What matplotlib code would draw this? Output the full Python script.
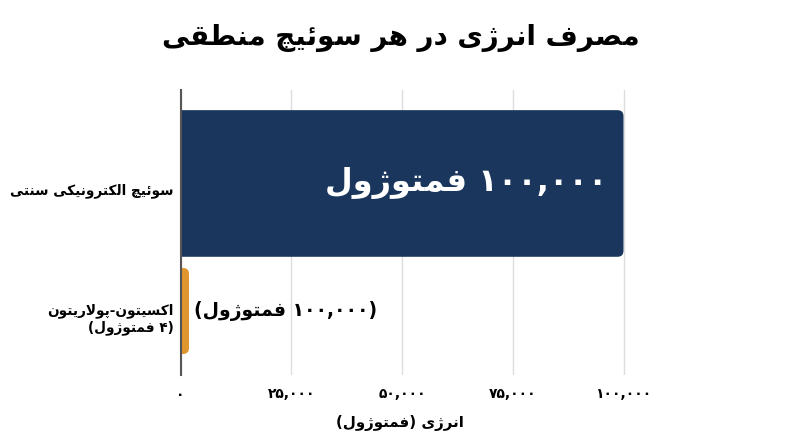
import matplotlib
matplotlib.use("Agg")
import matplotlib.pyplot as plt
import matplotlib.transforms as mtransforms
from matplotlib.patches import FancyBboxPatch

# chart data
categories = ["سوئیچ الکترونیکی سنتی", "اکسیتون-پولاریتون\n(۴ فمتوژول)"]
energy_fj = [100000, 4]
bar_labels = ["۱۰۰,۰۰۰ فمتوژول", "(۱۰۰,۰۰۰ فمتوژول)"]
x_ticks = [0, 25000, 50000, 75000, 100000]
x_tick_labels = ["۰", "۲۵,۰۰۰", "۵۰,۰۰۰", "۷۵,۰۰۰", "۱۰۰,۰۰۰"]
title = "مصرف انرژی در هر سوئیچ منطقی"
x_label = "انرژی (فمتوژول)"

bar_colors = ["#1a365d", "#e0962f"]

# matplotlib does no arabic shaping, so do it by hand:
# letter -> (first presentation form codepoint, joins to the left?)
# forms are ordered isolated, final, initial, medial
LETTERS = {
    'ا': (0xFE8D, False), 'ب': (0xFE8F, True), 'ت': (0xFE95, True),
    'ج': (0xFE9D, True), 'ح': (0xFEA1, True), 'خ': (0xFEA5, True),
    'د': (0xFEA9, False), 'ذ': (0xFEAB, False), 'ر': (0xFEAD, False),
    'ز': (0xFEAF, False), 'س': (0xFEB1, True), 'ش': (0xFEB5, True),
    'ص': (0xFEB9, True), 'ط': (0xFEC1, True), 'ع': (0xFEC9, True),
    'ف': (0xFED1, True), 'ق': (0xFED5, True), 'ل': (0xFEDD, True),
    'م': (0xFEE1, True), 'ن': (0xFEE5, True), 'ه': (0xFEE9, True),
    'و': (0xFEED, False), 'ئ': (0xFE89, True), 'ی': (0xFBFC, True),
    'ک': (0xFB8E, True), 'گ': (0xFB92, True), 'پ': (0xFB56, True),
    'چ': (0xFB7A, True), 'ژ': (0xFB8A, False),
}
DIGITS = set('۰۱۲۳۴۵۶۷۸۹0123456789')
MIRROR = {'(': ')', ')': '('}


def shape(s):
    out = []
    prev_joins = False
    i = 0
    while i < len(s):
        c = s[i]
        if c not in LETTERS:
            out.append(c)
            prev_joins = False
            i += 1
            continue
        if c == 'ل' and i + 1 < len(s) and s[i + 1] == 'ا':
            out.append('\uFEFC' if prev_joins else '\uFEFB')
            prev_joins = False
            i += 2
            continue
        base, dual = LETTERS[c]
        nxt = s[i + 1] if i + 1 < len(s) else ''
        next_joins = dual and nxt in LETTERS
        if prev_joins and next_joins:
            off = 3
        elif prev_joins:
            off = 1
        elif next_joins:
            off = 2
        else:
            off = 0
        out.append(chr(base + off))
        prev_joins = dual
        i += 1
    return ''.join(out)


def vis_line(s):
    s = shape(s)
    runs = []
    for ch in s:
        isnum = ch in DIGITS or (ch == ',' and len(runs) > 0 and runs[-1][0])
        if runs and runs[-1][0] == isnum:
            runs[-1][1].append(ch)
        else:
            runs.append([isnum, [ch]])
    out = []
    for isnum, chars in reversed(runs):
        if isnum:
            out.extend(chars)
        else:
            out.extend(MIRROR.get(c, c) for c in reversed(chars))
    return ''.join(out)


def fa(text):
    return '\n'.join(vis_line(line) for line in text.split('\n'))


plt.rcParams['font.family'] = ['DejaVu Sans']

W, H = 800, 447
fig = plt.figure(figsize=(8, 4.47), dpi=100)
ax_l, ax_r, ax_t, ax_b = 180.5, 630, 90, 375
ax = fig.add_axes([ax_l / W, (H - ax_b) / H, (ax_r - ax_l) / W, (ax_b - ax_t) / H])

xmax = 100000 * (ax_r - ax_l) / 443.0
ax.set_xlim(0, xmax)
ax.set_ylim(1.502, -0.733)

ypos = [0, 1]
heights = [1.15, 0.675]
bars = ax.barh(ypos, energy_fj, height=heights, color=bar_colors)

sx = xmax / (ax_r - ax_l)
sy = (1.502 + 0.733) / (ax_b - ax_t)
r = 6
for rect in bars:
    x0, y0 = rect.get_x(), rect.get_y()
    w, h = rect.get_width(), rect.get_height()
    w = max(w, 8.5 * sx)
    patch = FancyBboxPatch((x0 - r * sx, y0), w + r * sx, h,
                           boxstyle="round,pad=0,rounding_size=%f" % (r * sx),
                           mutation_aspect=sy / sx,
                           fc=rect.get_facecolor(), ec='none', zorder=2)
    rect.remove()
    ax.add_patch(patch)

# value labels
ax.text(energy_fj[0] - 16 * sx, ypos[0], fa(bar_labels[0]), ha='right', va='center',
        color='white', fontsize=23, fontweight='bold', zorder=3)
ax.text(8.5 * sx + 5 * sx, ypos[1], fa(bar_labels[1]), ha='left', va='center',
        color='black', fontsize=13.5, fontweight='bold', zorder=3)

ax.set_xticks(x_ticks)
ax.set_xticklabels([fa(t) for t in x_tick_labels], fontsize=10, fontweight='bold')
ax.set_yticks(ypos)
ax.set_yticklabels([fa(c) for c in categories], fontsize=9.8, fontweight='bold', ma='right')
ax.tick_params(length=0, pad=5)
ax.tick_params(axis='x', pad=9)

# category labels sit a little below the bar centres in the reference
shift = mtransforms.ScaledTranslation(0, -4 / 72, fig.dpi_scale_trans)
for lab in ax.get_yticklabels():
    lab.set_transform(lab.get_transform() + shift)

ax.grid(axis='x', color='#dddddd', linewidth=1)
ax.set_axisbelow(True)
for s in ['top', 'right', 'bottom']:
    ax.spines[s].set_visible(False)
ax.spines['left'].set_color('#555555')
ax.spines['left'].set_linewidth(1.5)

fig.text(400 / W, 1 - 423 / H, fa(x_label), ha='center', va='center',
         fontsize=10.8, fontweight='bold')
fig.text(401 / W, 1 - 38 / H, fa(title), ha='center', va='center',
         fontsize=20, fontweight='bold')

fig.savefig('out.png', dpi=100, facecolor='white')
